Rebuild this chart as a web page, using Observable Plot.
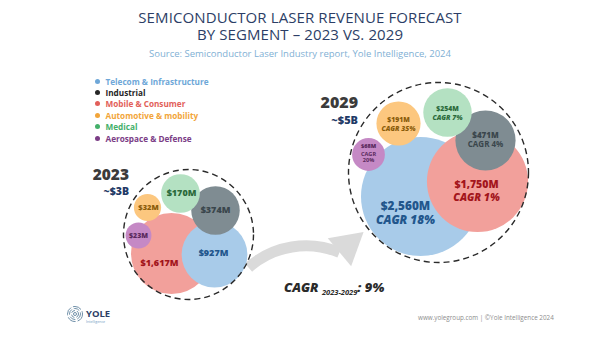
<!DOCTYPE html>
<html>
<head>
<meta charset="utf-8">
<script src="https://cdn.jsdelivr.net/npm/d3@7"></script>
<script src="https://cdn.jsdelivr.net/npm/@observablehq/plot@0.6"></script>
<style>
  html, body { margin: 0; padding: 0; background: #fff; }
  #wrap { position: relative; width: 600px; height: 338px; overflow: hidden; background: #fff; font-family: "Open Sans", "DejaVu Sans", sans-serif; }
  .abs { position: absolute; }
  #wrap svg.plot { position: absolute; left: 0; top: 0; }
  #title { left: 0; width: 600px; top: 8.5px; text-align: center; color: #2c3e66; font-size: 15px; font-weight: 500; line-height: 17.5px; letter-spacing: 0.1px; }
  #subtitle { left: 0; width: 600px; top: 46.5px; text-align: center; color: #7fb0d4; font-size: 9.5px; }
  #legend { left: 95px; top: 75.5px; font-size: 8.2px; font-weight: 700; line-height: 11.4px; }
  #legend .row { white-space: nowrap; }
  #legend .dot { display: inline-block; width: 5px; height: 5px; border-radius: 50%; margin-right: 5.5px; vertical-align: 1px; }
  #cagr { left: 284px; top: 278px; font-size: 13px; font-weight: 800; font-style: italic; color: #2a2a2a; white-space: nowrap; }
  #cagr sub { font-size: 7.5px; font-weight: 700; vertical-align: -3px; }
  #footer { left: 418px; top: 313px; font-size: 6.3px; color: #8d8d8d; white-space: nowrap; }
  #logo { left: 66px; top: 304px; }
</style>
</head>
<body>
<div id="wrap">
  <div id="title" class="abs">SEMICONDUCTOR LASER REVENUE FORECAST<br>BY SEGMENT – 2023 VS. 2029</div>
  <div id="subtitle" class="abs">Source: Semiconductor Laser Industry report, Yole Intelligence, 2024</div>
  <div id="legend" class="abs"></div>
  <div id="cagr" class="abs"></div>
  <div id="footer" class="abs">www.yolegroup.com | ©Yole Intelligence 2024</div>
  <div id="logo" class="abs">
    <svg width="52" height="22" viewBox="0 0 52 22">
      <g fill="none" stroke="#6f8fa8" stroke-width="1">
        <circle cx="9" cy="10" r="7.5" stroke-dasharray="9 2"/>
        <circle cx="9" cy="10" r="5.5" stroke-dasharray="6 2"/>
        <circle cx="9" cy="10" r="3.5" stroke-dasharray="4 2"/>
        <circle cx="9" cy="10" r="1.5"/>
      </g>
      <text x="20" y="13" font-size="9.5" font-weight="700" fill="#2c3e66" font-family="Open Sans, sans-serif">YOLE</text>
      <text x="20" y="18.5" font-size="3.6" fill="#6f9cc4" font-family="Open Sans, sans-serif">Intelligence</text>
    </svg>
  </div>
</div>
<script>
// ---------------- DATA ----------------
const segments = ["Telecom & Infrastructure", "Industrial", "Mobile & Consumer", "Automotive & mobility", "Medical", "Aerospace & Defense"];
const revenue2023 = [927, 374, 1617, 32, 170, 23];     // $M
const revenue2029 = [2560, 471, 1750, 191, 254, 68];   // $M
const cagr2029 = [18, 4, 1, 35, 7, 20];                // % 2023-2029
const years = ["2023", "2029"];
const totals = ["~$3B", "~$5B"];
const totalCagr = 9;                                   // %
const cagrPeriod = "2023-2029";

// ---------------- STYLES ----------------
const bubbleFill = ["#a8cbe9", "#7f8c92", "#f2a09b", "#fcc77f", "#b4e1c2", "#c589c5"];
const labelColor = ["#22568c", "#3a464c", "#a3151b", "#8a5c0a", "#2b6a3b", "#5a2a5d"];
const legendColor = ["#6ea7d8", "#262626", "#e25f5a", "#f2a53a", "#44b06a", "#7b3d86"];

// ---------------- LAYOUT (page pixels) ----------------
// bubble centres per segment (same order as segments)
const pos2023 = [[214, 254], [215, 210], [171, 253], [147, 207], [180, 193], [138, 235]];
const pos2029 = [[420, 196], [485, 140], [477, 181], [398, 123], [447, 112], [368, 154]];
const drawOrder2023 = [1, 2, 0, 4, 3, 5];
const drawOrder2029 = [0, 2, 1, 4, 3, 5];
// label positions
const lab2023 = [[213, 253], [215, 210], [159, 263], [148, 207], [181, 193], [138, 235]];
const lab2023Size = [9, 9, 9, 7.5, 9, 7];
const labVal2029 = [[405, 206], [485, 134.5], [476, 184.5], [398, 119.5], [447, 108.5], [368, 146]];
const labCagr2029 = [[405, 219.5], [485, 144], [476, 197], [398, 128], [447, 117], [368, 156.5]];
const lab2029Size = [11.8, 8, 10.5, 6.8, 6.8, 5.6];
const enclose = [{x: 188, y: 234, r: 65}, {x: 438, y: 172, r: 90}];
const yearPos = [{x: 128.5, y: 175, ty: 191, fs: 15.5}, {x: 357.5, y: 102, ty: 119.5, fs: 16}];

// ---------------- TABLES ----------------
const fmt = v => "$" + d3.format(",")(v) + "M";
const rows = segments.map((s, i) => ({
  i, segment: s, v23: revenue2023[i], v29: revenue2029[i], cagr: cagr2029[i]
}));
const g23 = drawOrder2023.map(i => ({...rows[i], x: pos2023[i][0], y: pos2023[i][1]}));
const g29 = drawOrder2029.map(i => ({...rows[i], x: pos2029[i][0], y: pos2029[i][1]}));
const l23 = rows.map(d => ({...d, x: lab2023[d.i][0], y: lab2023[d.i][1], fs: lab2023Size[d.i]}));
const l29v = rows.map(d => ({...d, x: labVal2029[d.i][0], y: labVal2029[d.i][1], fs: lab2029Size[d.i]}));
const l29c = rows.map(d => ({...d, x: labCagr2029[d.i][0], y: labCagr2029[d.i][1], fs: lab2029Size[d.i],
  t: d.i === 5 ? "CAGR\n" + d.cagr + "%" : "CAGR " + d.cagr + "%"}));
const italicSet = new Set([0, 2, 3, 4]);

const W = 600, H = 338;
const FONT = "Open Sans, DejaVu Sans, sans-serif";
function frame(rScale, marks) {
  const svg = Plot.plot({
    width: W, height: H, margin: 0,
    x: {domain: [0, W], range: [0, W], axis: null},
    y: {domain: [0, H], range: [0, H], axis: null},
    r: rScale,
    style: {background: "transparent", fontFamily: FONT},
    marks
  });
  svg.classList.add("plot");
  return svg;
}

// ---------------- PLOT 1 : 2023 + arrow ----------------
const p1 = frame({type: "sqrt", domain: [0, 1617], range: [9.2, 40.5]}, [
  Plot.arrow([{x1: 248, y1: 267, x2: 339, y2: 252}], {
    x1: "x1", y1: "y1", x2: "x2", y2: "y2", bend: 32, headLength: 0,
    stroke: "#dadada", strokeWidth: 11, strokeLinecap: "butt"
  }),
  Plot.dot([{x: 347, y: 245}], {x: "x", y: "y", r: 13.5, symbol: "triangle", rotate: 50, fill: "#dadada"}),
  Plot.dot(g23, {x: "x", y: "y", r: "v23", fill: d => bubbleFill[d.i]}),
  Plot.dot([enclose[0]], {x: "x", y: "y", r: enclose[0].r, fill: "none", stroke: "#2a2a2a", strokeWidth: 1.4, strokeDasharray: "6,4"}),
  Plot.text(l23, {x: "x", y: "y", text: d => fmt(d.v23), fill: d => labelColor[d.i], fontSize: "fs", fontWeight: 800}),
  Plot.text([yearPos[0]], {x: "x", y: "y", text: () => years[0], textAnchor: "end", fontSize: yearPos[0].fs, fontWeight: 800, fill: "#3b3b3b"}),
  Plot.text([yearPos[0]], {x: "x", y: "ty", text: () => totals[0], textAnchor: "end", fontSize: 10.5, fontWeight: 800, fill: "#1f3a66"})
]);

// ---------------- PLOT 2 : 2029 ----------------
const p2 = frame({type: "sqrt", domain: [0, 2560], range: [8, 59.5]}, [
  Plot.dot(g29, {x: "x", y: "y", r: "v29", fill: d => bubbleFill[d.i]}),
  Plot.dot([enclose[1]], {x: "x", y: "y", r: enclose[1].r, fill: "none", stroke: "#2a2a2a", strokeWidth: 1.4, strokeDasharray: "6,4"}),
  Plot.text(l29v, {x: "x", y: "y", text: d => fmt(d.v29), fill: d => labelColor[d.i], fontSize: "fs", fontWeight: 800}),
  Plot.text(l29c.filter(d => italicSet.has(d.i)), {x: "x", y: "y", text: "t", fill: d => labelColor[d.i], fontSize: "fs", fontWeight: 800, fontStyle: "italic"}),
  Plot.text(l29c.filter(d => !italicSet.has(d.i)), {x: "x", y: "y", text: "t", fill: d => labelColor[d.i], fontSize: "fs", fontWeight: 700, lineHeight: 1.15}),
  Plot.text([yearPos[1]], {x: "x", y: "y", text: () => years[1], textAnchor: "end", fontSize: yearPos[1].fs, fontWeight: 800, fill: "#3b3b3b"}),
  Plot.text([yearPos[1]], {x: "x", y: "ty", text: () => totals[1], textAnchor: "end", fontSize: 11, fontWeight: 800, fill: "#1f3a66"})
]);

const wrap = document.getElementById("wrap");
wrap.insertBefore(p1, wrap.firstChild);
wrap.insertBefore(p2, p1.nextSibling);

// legend
const legend = document.getElementById("legend");
segments.forEach((s, i) => {
  const row = document.createElement("div");
  row.className = "row";
  row.style.color = legendColor[i];
  row.innerHTML = `<span class="dot" style="background:${legendColor[i]}"></span>`;
  row.appendChild(document.createTextNode(s));
  legend.appendChild(row);
});

// overall CAGR caption
document.getElementById("cagr").innerHTML = `CAGR <sub>${cagrPeriod}</sub>: ${totalCagr}%`;
</script>
</body>
</html>
